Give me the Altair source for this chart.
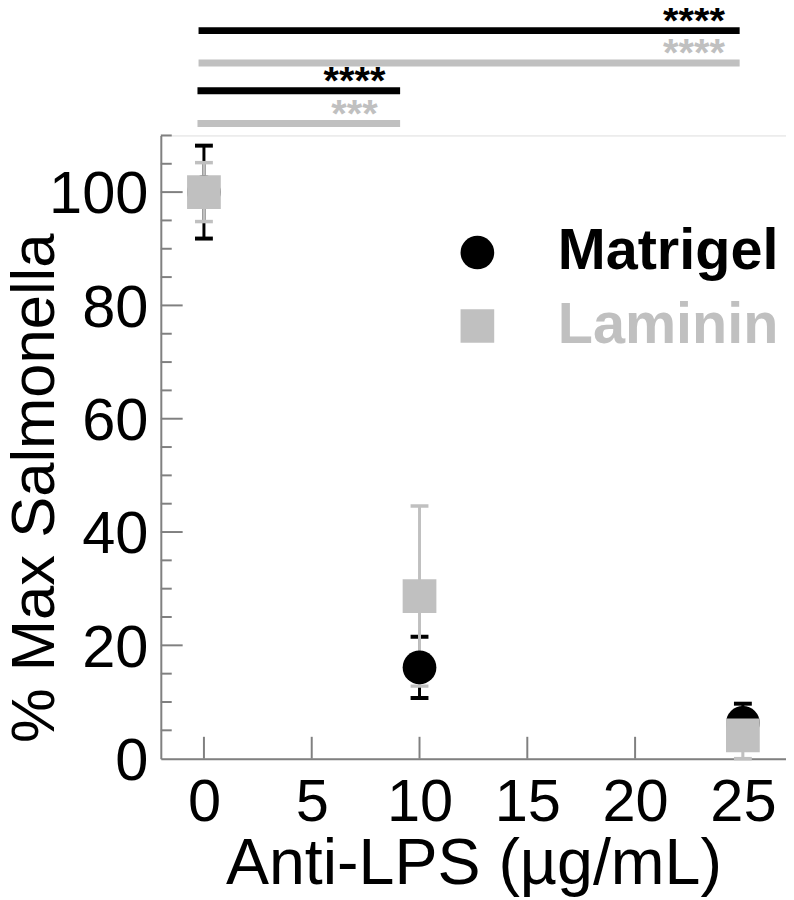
import altair as alt
import pandas as pd

# ---------------- data ----------------
series = ["Matrigel", "Laminin"]
series_colors = ["#000000", "#c0c0c0"]
series_shapes = ["circle", "square"]

conc = [0, 10, 25]
matrigel_mean = [100, 16.1, 6.3]
matrigel_err = [8.2, 5.4, 3.4]
laminin_mean = [100, 28.7, 4.1]
laminin_err = [5.2, 15.9, 4.1]

x_ticks = [0, 5, 10, 15, 20, 25]
y_labels = [0, 20, 40, 60, 80, 100]
y_major_ticks = [20, 40, 60, 80, 100]
y_minor_ticks = [5, 10, 15, 25, 30, 35, 45, 50, 55, 65, 70, 75, 85, 90, 95, 105, 110]

sig_series = ["Matrigel", "Laminin", "Matrigel", "Laminin"]
sig_start = [-0.25, -0.25, -0.3, -0.3]
sig_end = [24.85, 24.85, 9.1, 9.1]
sig_level = [128.5, 122.8, 117.9, 112.1]
sig_label = ["****", "****", "****", "***"]

# ---------------- tables ----------------
rows = []
for name, means, errs in [("Matrigel", matrigel_mean, matrigel_err),
                          ("Laminin", laminin_mean, laminin_err)]:
    for c, m, e in zip(conc, means, errs):
        rows.append({"series": name, "conc": c, "mean": m, "lo": m - e, "hi": m + e})
df = pd.DataFrame(rows)

sig_df = pd.DataFrame({"series": sig_series, "start": sig_start, "end": sig_end,
                       "level": sig_level, "label": sig_label})
xt_df = pd.DataFrame({"v": x_ticks})
ymaj_df = pd.DataFrame({"v": y_major_ticks})
ymin_df = pd.DataFrame({"v": y_minor_ticks})

# ---------------- scales & axes ----------------
FONT = "Liberation Sans"
AXIS_GREY = "#808080"
W, H = 630, 628
COLOR_OF = dict(zip(series, series_colors))

xscale = alt.Scale(domain=[-2, 27], nice=False, zero=False)
yscale = alt.Scale(domain=[0, 110], nice=False, zero=False)
cscale = alt.Scale(domain=series, range=series_colors)
sscale = alt.Scale(domain=series, range=series_shapes)

x_axis = alt.Axis(values=x_ticks, ticks=False, tickSize=0, grid=False,
                  domainColor=AXIS_GREY, domainWidth=2,
                  labelFont=FONT, labelFontSize=60, labelColor="#000000",
                  labelPadding=15, labelFlush=False, labelOverlap=False,
                  title="Anti-LPS (µg/mL)", titleFont=FONT, titleFontSize=65,
                  titleFontWeight="normal", titleColor="#000000",
                  titleBaseline="alphabetic", titleY=126)
y_axis = alt.Axis(values=y_labels, ticks=False, tickSize=0, grid=False,
                  domainColor=AXIS_GREY, domainWidth=2,
                  labelFont=FONT, labelFontSize=60, labelColor="#000000",
                  labelPadding=13, labelFlush=False, labelOverlap=False,
                  labelOffset=3,
                  title="% Max Salmonella", titleFont=FONT, titleFontSize=62,
                  titleFontWeight="normal", titleColor="#000000",
                  titleAngle=270, titleBaseline="alphabetic", titleAlign="center",
                  titleX=-108, titleY=355)

X = alt.X("conc:Q", scale=xscale, axis=x_axis)

# ---------------- axis ticks (inward) ----------------
xt = alt.Chart(xt_df).mark_rule(color=AXIS_GREY, strokeWidth=2).encode(
    x=alt.X("v:Q", scale=xscale, axis=x_axis),
    y=alt.value(H), y2=alt.value(H - 22))
ymaj = alt.Chart(ymaj_df).mark_rule(color=AXIS_GREY, strokeWidth=2).encode(
    y=alt.Y("v:Q", scale=yscale, axis=y_axis),
    x=alt.value(0), x2=alt.value(22))
ymin = alt.Chart(ymin_df).mark_rule(color=AXIS_GREY, strokeWidth=2).encode(
    y=alt.Y("v:Q", scale=yscale, axis=y_axis),
    x=alt.value(0), x2=alt.value(11))


# ---------------- error bars ----------------
def errbar(name, stem_w, cap_t):
    col = COLOR_OF[name]
    base = alt.Chart(df).transform_filter(alt.datum.series == name)
    stem = base.mark_rule(strokeWidth=stem_w, color=col).encode(
        x=X, y=alt.Y("lo:Q", scale=yscale, axis=y_axis), y2="hi:Q")
    caps = base.transform_fold(["lo", "hi"], as_=["end", "val"]).mark_tick(
        orient="horizontal", size=18, thickness=cap_t, opacity=1, color=col).encode(
        x=X, y=alt.Y("val:Q", scale=yscale, axis=y_axis))
    return [stem, caps]


legend = alt.Legend(title=None, orient="none", legendX=290, legendY=89,
                    labelFont=FONT, labelFontSize=58, labelFontWeight="bold",
                    labelColor={"expr": "datum.label === 'Laminin' ? '#c0c0c0' : '#000000'"},
                    symbolSize=1150, symbolStrokeWidth=0, symbolOpacity=1,
                    labelOffset=52, rowPadding=16, padding=0, labelLimit=400)

points = alt.Chart(df).mark_point(filled=True, size=1156, opacity=1, strokeWidth=0).encode(
    x=X, y=alt.Y("mean:Q", scale=yscale, axis=y_axis),
    color=alt.Color("series:N", scale=cscale, legend=legend),
    shape=alt.Shape("series:N", scale=sscale, legend=legend))


# ---------------- significance bars ----------------
def sig_layers(name):
    col = COLOR_OF[name]
    base = alt.Chart(sig_df).transform_filter(alt.datum.series == name)
    bars = base.mark_rule(strokeWidth=7, strokeCap="butt", color=col).encode(
        x=alt.X("start:Q", scale=xscale, axis=x_axis), x2="end:Q",
        y=alt.Y("level:Q", scale=yscale, axis=y_axis))
    txt = base.mark_text(
        font=FONT, fontSize=40, fontWeight="bold", align="center",
        baseline="alphabetic", dx=-46, dy=3, color=col).encode(
        x=alt.X("end:Q", scale=xscale, axis=x_axis),
        y=alt.Y("level:Q", scale=yscale, axis=y_axis),
        text="label:N")
    return [bars, txt]


layers = [xt, ymaj, ymin] + errbar("Matrigel", 3, 4) + errbar("Laminin", 3, 3.5) + \
         [points] + sig_layers("Matrigel") + sig_layers("Laminin")

chart = alt.layer(*layers).properties(
    width=W, height=H,
    autosize=alt.AutoSizeParams(type="none"),
    padding={"left": 154, "top": 125, "right": 0, "bottom": 137},
).configure_view(stroke=None).configure(font=FONT)

chart.save("out.html", embed_options={"renderer": "svg", "actions": False})
